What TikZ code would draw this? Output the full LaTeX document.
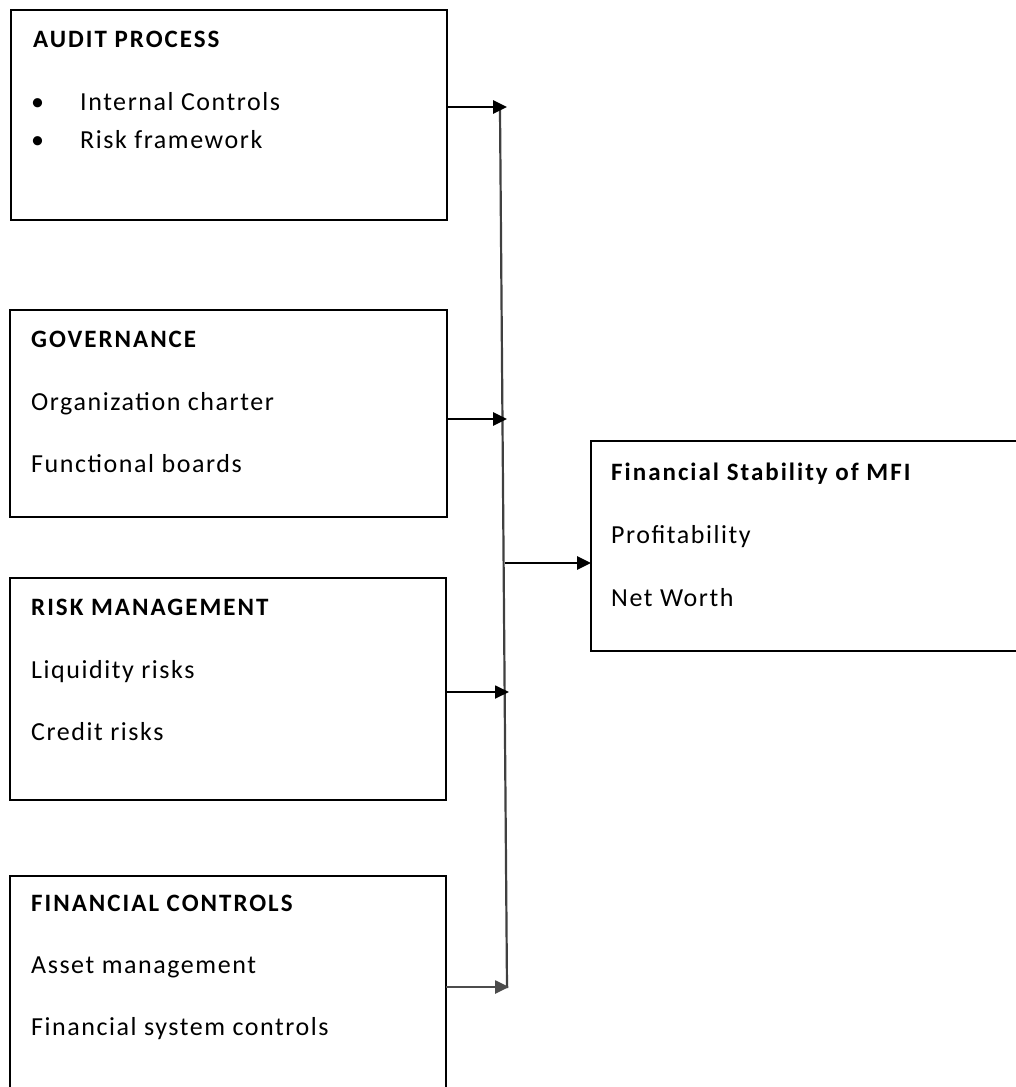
\documentclass[tikz,border=0pt]{standalone}
\usepackage{fontspec}
\setmainfont{Carlito}[LetterSpace=6]
\newfontfamily\ttlfont{Carlito}[LetterSpace=8]
\usetikzlibrary{arrows.meta}
\begin{document}
\begin{tikzpicture}[x=1pt,y=-1pt,
  box/.style={draw=black,line width=2pt,inner sep=0pt,outer sep=0pt,anchor=north west},
  ttl/.style={anchor=base west,inner sep=0pt,font=\fontsize{25}{30}\ttlfont\bfseries},
  itm/.style={anchor=base west,inner sep=0pt,font=\fontsize{26}{31}\selectfont},
  arr/.style={line width=2.6pt,-{Triangle[length=14pt,width=13pt]}},
  vline/.style={line width=2.2pt,draw=black!75}]
\useasboundingbox (0,0) rectangle (1016,1087);
\clip (0,0) rectangle (1016,1087);
% boxes
\node[box,minimum width=436pt,minimum height=210pt] (audit) at (11,10) {};
\node[box,minimum width=437pt,minimum height=207pt] (gov) at (10,310) {};
\node[box,minimum width=436pt,minimum height=222pt] (risk) at (10,578) {};
\node[box,minimum width=436pt,minimum height=240pt] (finc) at (10,876) {};
\node[box,minimum width=445pt,minimum height=210pt] (stab) at (591,441) {};
% texts
\node[ttl] (t1) at (33,47) {AUDIT PROCESS};
\node[itm] (b1) at (31,110) {\textbullet};
\node[itm] (i1) at (80,110) {Internal Controls};
\node[itm] (b2) at (31,148) {\textbullet};
\node[itm] (i2) at (80,148) {Risk framework};
\node[ttl] (t2) at (31,347) {GOVERNANCE};
\node[itm] (i3) at (31,410) {Organization charter};
\node[itm] (i4) at (31,472) {Functional boards};
\node[ttl] (t3) at (31,615) {RISK MANAGEMENT};
\node[itm] (i5) at (31,678) {Liquidity risks};
\node[itm] (i6) at (31,740) {Credit risks};
\node[ttl] (t4) at (31,911) {FINANCIAL CONTROLS};
\node[itm] (i7) at (31,973) {Asset management};
\node[itm] (i8) at (31,1035) {Financial system controls};
\node[ttl] (t5) at (611,480) {Financial Stability of MFI};
\node[itm] (i9) at (611,543) {Profitability};
\node[itm] (i10) at (611,606) {Net Worth};
% connectors
\coordinate (vtop) at (500,110);
\coordinate (vbot) at (507,988);
\coordinate (j1) at (507,107);
\coordinate (j2) at (507,419);
\coordinate (j3) at (509,692);
\coordinate (j4) at (509,987);
\coordinate (jm) at (505,563);
\draw[vline] (vtop) -- (vbot);
\draw[arr] (audit.east |- j1) -- (j1);
\draw[arr] (gov.east |- j2) -- (j2);
\draw[arr,line width=1.8pt] (risk.east |- j3) -- (j3);
\draw[arr,draw=black!70] (finc.east |- j4) -- (j4);
\draw[arr] (jm) -- (stab.west |- jm);
\end{tikzpicture}
\end{document}
